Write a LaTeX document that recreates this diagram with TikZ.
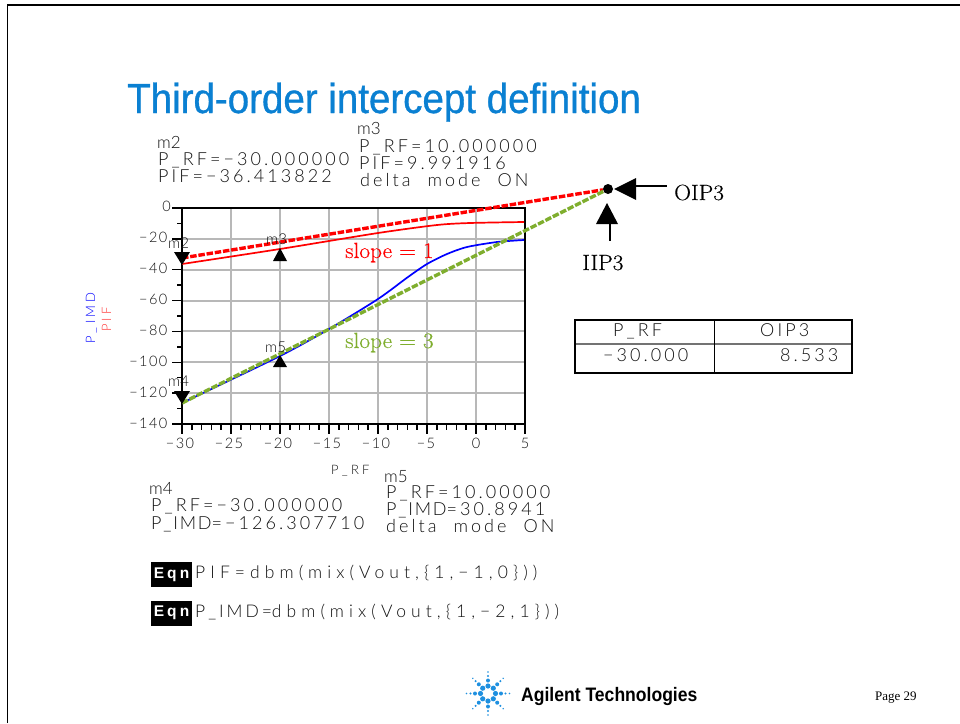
\documentclass[tikz,border=0pt]{standalone}
\usepackage{fontspec}
\setmainfont{Liberation Serif}
\newfontfamily\adsfont[LetterSpace=17]{Lato Light}
\newfontfamily\eqnfont[LetterSpace=29]{Lato Light}
\newfontfamily\adstick[LetterSpace=10]{Lato Light}
\newfontfamily\adsaxis[LetterSpace=25]{Lato Light}
\newfontfamily\adsmark{Lato Light}
\newfontfamily\boxfont[LetterSpace=20]{Liberation Sans}
\newfontfamily\titlefont[FakeStretch=0.917,FakeBold=0.8]{Liberation Sans}
\newfontfamily\agfont[BoldFeatures={FakeStretch=0.9}]{Liberation Sans}
\newfontfamily\lmfont[FakeBold=0.3,FakeStretch=1.06]{Latin Modern Roman}
\definecolor{ttl}{HTML}{0A80D2}
\definecolor{grn}{HTML}{7FAE2E}
\definecolor{adsgray}{HTML}{111111}
\definecolor{star}{HTML}{1E90E0}
\definecolor{grid}{HTML}{B8B8B8}
\tikzset{
 x=1pt,y=-1pt,
 ads/.style={font=\adsfont\fontsize{18}{18}\selectfont,text=adsgray,inner sep=0pt,anchor=base west},
 eqn/.style={font=\eqnfont\fontsize{17.5}{17.5}\selectfont,text=adsgray,inner sep=0pt,anchor=base west},
 tick/.style={font=\adstick\fontsize{14.5}{14.5}\selectfont,text=adsgray,inner sep=0pt,anchor=base east},
 xtick/.style={font=\adstick\fontsize{14.5}{14.5}\selectfont,text=adsgray,inner sep=0pt,anchor=base},
 mk/.style={font=\adsmark\fontsize{#1}{#1}\selectfont,text=adsgray,inner sep=0pt,anchor=base west},
 serif/.style={font=\lmfont\fontsize{22}{22}\selectfont,inner sep=0pt,anchor=base west},
 axlab/.style={font=\adsaxis\fontsize{13}{13}\selectfont,inner sep=0pt,anchor=base west},
 gridline/.style={draw=grid,line width=2pt},
 marker/.style={fill=black,draw=none},
 eqnbox/.style={fill=black,text=white,font=\boxfont\bfseries\fontsize{15.5}{15.5}\selectfont,inner sep=0pt,minimum width=41pt,minimum height=25pt},
 arrowline/.style={line width=2pt,draw=black},
 dashline/.style={line width=3.4pt,dash pattern=on 6.5pt off 1.8pt},
}
\begin{document}
\begin{tikzpicture}
\useasboundingbox (0,0) rectangle (960,723);
\fill[white] (0,0) rectangle (960,723);
% page frame
\draw[line width=1pt] (7.5,723) -- (7.5,5);
\draw[line width=2pt] (7,5) -- (960,5);
% title
\node[font=\titlefont\fontsize{42}{42}\selectfont,text=ttl,inner sep=0pt,anchor=base west] (title) at (127,113) {Third-order intercept definition};
% marker readouts
\node[mk=17] (m2a) at (157,148) {m2};
\node[ads] (m2b) at (158,165) {P\_RF=−30.000000};
\node[ads] (m2c) at (158,182) {PIF=−36.413822};
\node[mk=17] (m3a) at (357,134) {m3};
\node[ads] (m3b) at (359,152) {P\_RF=10.000000};
\node[ads] (m3c) at (359,169) {PIF=9.991916};
\node[ads] (m3d) at (360,186) {delta\hspace{9pt} mode\hspace{9pt} ON};
\node[mk=17] (m4a) at (149,494) {m4};
\node[ads] (m4b) at (151,511) {P\_RF=−30.000000};
\node[ads] (m4c) at (151,529) {\adstick P\_IMD\adsfont =−126.307710};
\node[mk=17] (m5a) at (384,482) {m5};
\node[ads] (m5b) at (386,498) {P\_RF=10.00000};
\node[ads] (m5c) at (386,515) {\adstick P\_IMD\adsfont =30.8941};
\node[ads] (m5d) at (386,532) {delta\hspace{9pt} mode\hspace{9pt} ON};
% equations
\node[eqnbox] (e1) at (171.5,574.5) {Eqn};
\node[eqnbox] (e2) at (171.5,613) {Eqn};
\node[eqn] (e1t) at (195,578) {PIF=dbm(mix(Vout,\{1,−1,0\}))};
\node[eqn] (e2t) at (195,617) {\adsfont P\_IMD=\eqnfont dbm(mix(Vout,\{1,−2,1\}))};
% grid
\foreach \x in {231,280,329,378,427,476} \draw[gridline] (\x,208) -- (\x,424);
\foreach \y in {238.9,269.7,300.6,331.4,362.3,393.1} \draw[gridline] (182,\y) -- (525,\y);
% ticks
\foreach \x in {182,231,280,329,378,427,476,525} \draw[line width=1.5pt] (\x,424) -- (\x,434);
\foreach \i in {1,...,34} \draw[line width=1.5pt] ({182+\i*9.8},424) -- ({182+\i*9.8},430);
\foreach \y in {208,238.9,269.7,300.6,331.4,362.3,393.1,424} \draw[line width=1.5pt] (172,\y) -- (182,\y);
\foreach \y in {223.4,254.3,285.1,316,346.9,377.7,408.6} \draw[line width=1.5pt] (177,\y) -- (182,\y);
% axis frame
\draw[line width=2pt] (182,208) rectangle (525,424);
% tick labels
\foreach \y/\t/\n in {242/−20/b,273/−40/c,304/−60/d,335/−80/e,366/−100/f,397/−120/g,428/−140/h} \node[tick] (yt\n) at (167.5,\y) {\t};
\node[tick] (yta) at (171,211) {0};
\foreach \x/\t/\n in {180/−30/a,229/−25/b,278/−20/c,327/−15/d,376/−10/e,426/−5/f,476/0/g,525/5/h} \node[xtick] (xt\n) at (\x,448) {\t};
\node[axlab,text=adsgray] (xl) at (331,474) {P\_RF};
% y label
\node[axlab,rotate=90,text=blue] (yl1) at (95,344) {P\_IMD};
\node[axlab,rotate=90,text=red!80] (yl2) at (111,332) {PIF};
% curves
\draw[red,line width=1.7pt,line join=round] plot[smooth,tension=0.45] coordinates {(182,264) (280,249) (378,233) (437,225) (470,223) (524,222)};
\draw[blue,line width=1.7pt,line join=round] plot[smooth,tension=0.45] coordinates {(182,403) (280,356) (329,329) (378,299) (408,277) (427,264) (447,254) (467,247) (497,242) (524,240)};
% intercept lines
\coordinate (r0) at (182,258);
\coordinate (g0) at (182,403);
\node[circle,fill=black,inner sep=0pt,minimum size=10pt] (ip) at (608,189) {};
\draw[red,dashline] (r0) -- (ip);
\draw[grn,dashline] (g0) -- (ip);
% markers
\fill[marker] (174,252) -- (190,252) -- (182,265) -- cycle;
\fill[marker] (174,391) -- (190,391) -- (182,404) -- cycle;
\fill[marker] (273,261) -- (287,261) -- (280,248) -- cycle;
\fill[marker] (273,367) -- (287,367) -- (280,355) -- cycle;
\node[mk=15] (l2) at (168,248) {m2};
\node[mk=15] (l3) at (266,244) {m3};
\node[mk=15] (l4) at (168,386) {m4};
\node[mk=15] (l5) at (265,352) {m5};
% slope labels
\node[serif,text=red] (s1) at (345,258) {slope = 1};
\node[serif,text=grn] (s3) at (345,348) {slope = 3};
% callouts
\node[serif] (oip) at (674,200) {OIP3};
\node[serif] (iip) at (582,270) {IIP3};
\coordinate (oa) at (636,186);
\coordinate (oe) at (667,186);
\coordinate (ia) at (610,224);
\coordinate (ie) at (610,241);
\draw[arrowline] (oa) -- (oe);
\draw[arrowline] (ia) -- (ie);
\fill[marker] (614,189) -- (636,178) -- (636,200) -- cycle;
\fill[marker] (607,203) -- (596,224) -- (618,224) -- cycle;
% table
\draw[draw=black!55,line width=1.5pt] (575,344) -- (852,344);
\draw[line width=1pt] (714,320) -- (714,373);
\draw[line width=2pt] (575,320) rectangle (852,373);
\node[ads] (t1) at (613,336) {P\_RF};
\node[ads] (t2) at (760,336) {OIP3};
\node[ads] (t3) at (603,361) {−30.000};
\node[ads] (t4) at (780,361) {8.533};
% logo
\foreach \a in {0,45,...,315} {
 \fill[star] (488,693.5) ++(\a:7.5) circle (2.6);
 \fill[star] (488,693.5) ++(\a:13) circle (2);
 \fill[star] (488,693.5) ++(\a:17.5) circle (1.2);
 \fill[star] (488,693.5) ++(\a:21.5) circle (0.8);
}
\node[font=\agfont\bfseries\fontsize{19.5}{19.5}\selectfont,inner sep=0pt,anchor=base west] (ag) at (521,701) {Agilent Technologies};
\node[font=\rmfamily\fontsize{13}{13}\selectfont,inner sep=0pt,anchor=base west] (pg) at (875,700) {Page 29};
\end{tikzpicture}
\end{document}
